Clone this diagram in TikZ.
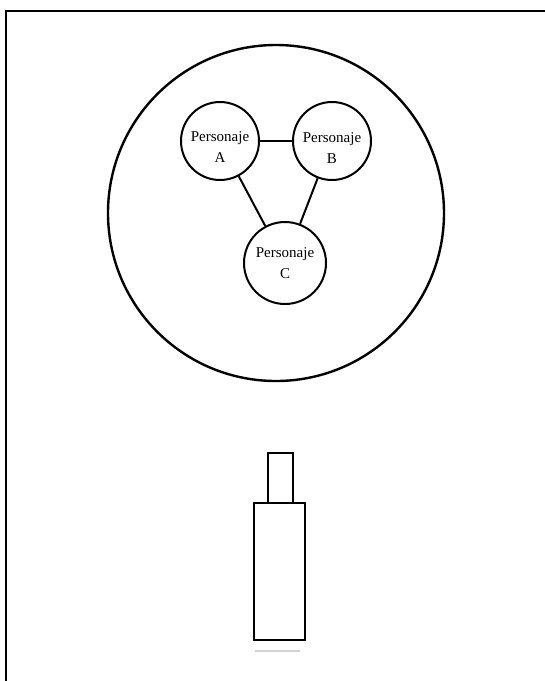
\documentclass[tikz,border=0pt]{standalone}
\usepackage{fontspec}
\setmainfont{Liberation Serif}
\begin{document}
\begin{tikzpicture}[x=0.5pt, y=-0.5pt, line width=1pt,
  persona/.style={draw, circle, minimum size=39pt, inner sep=0pt},
  name text/.style={align=center, inner sep=0pt, font=\fontsize{7.5}{10.5}\selectfont}]
  \useasboundingbox (0,0) rectangle (545,681);
  % Frame
  \draw (6,681) -- (6,11) -- (545,11);

  % Stage
  \draw[line width=1.2pt] (276,213) circle (84pt);

  % Characters
  \node[persona, label={[name text, yshift=-3pt]center:Personaje\\A}] (A) at (220,141) {};
  \node[persona, label={[name text, yshift=-3.5pt]center:Personaje\\B}] (B) at (332,141) {};
  \node[persona, minimum size=41pt, label={[name text]center:Personaje\\C}] (C) at (285,263) {};
  \draw (A) -- (B);
  \draw (A) -- (C);
  \draw (B) -- (C);

  % Camera
  \draw[line width=1.4pt] (268,453) rectangle (293,503);
  \draw[line width=1.4pt] (254,503) rectangle (305,640);
  \draw[gray!35, line width=0.8pt] (255,651) -- (300,651);
\end{tikzpicture}
\end{document}
